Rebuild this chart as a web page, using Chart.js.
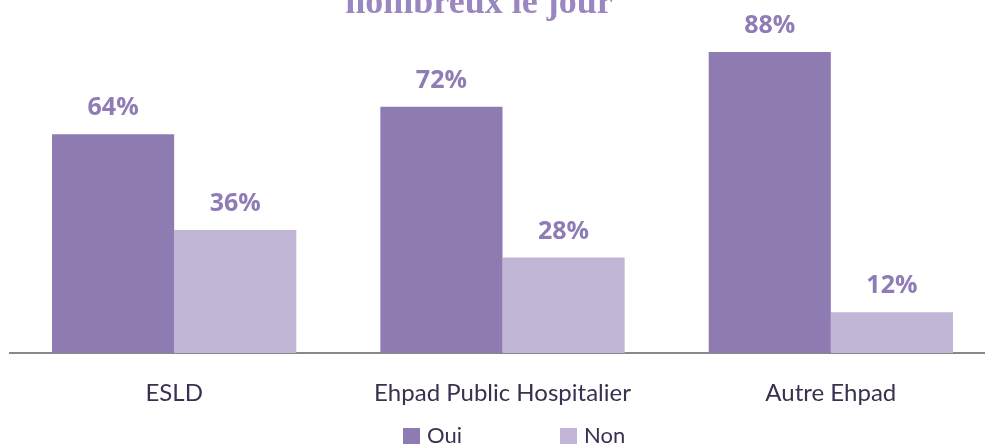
<!DOCTYPE html>
<html>
<head>
<meta charset="utf-8">
<script src="https://cdn.jsdelivr.net/npm/chart.js@4"></script>
<style>
  html, body { margin: 0; padding: 0; background: #fff; overflow: hidden; }
  #wrap { position: relative; width: 995px; height: 444px; }
</style>
</head>
<body>
<div id="wrap"><canvas id="chart"></canvas></div>
<script>
const categories = ["ESLD", "Ehpad Public Hospitalier", "Autre Ehpad"];
const ouiValues = [64, 72, 88];
const nonValues = [36, 28, 12];
const titleLine = "nombreux le jour";

const ouiColor = "#8e7bb2";
const nonColor = "#c2b6d6";
const textColor = "#3b3050";

// value labels, the cut-off title line and the legend row
const overlay = {
  id: "overlay",
  afterDraw(chart) {
    const ctx = chart.ctx;
    ctx.save();
    ctx.fillStyle = "#8f7bb5";
    ctx.font = "bold 25px 'Open Sans'";
    ctx.textAlign = "center";
    ctx.textBaseline = "middle";
    chart.data.datasets.forEach((ds, i) => {
      chart.getDatasetMeta(i).data.forEach((bar, j) => {
        ctx.fillText(ds.data[j] + "%", bar.x, bar.y - 26);
      });
    });

    ctx.font = "bold 36px 'Liberation Serif'";
    ctx.fillStyle = "#9b87c0";
    ctx.textBaseline = "alphabetic";
    ctx.fillText(titleLine, 479, 13);

    // legend
    const starts = [403, 560];
    ctx.font = "22px Lato";
    ctx.textAlign = "left";
    ctx.textBaseline = "middle";
    chart.data.datasets.forEach((ds, i) => {
      ctx.fillStyle = ds.backgroundColor;
      ctx.fillRect(starts[i], 428, 17, 16);
      ctx.fillStyle = textColor;
      ctx.fillText(ds.label, starts[i] + 24, 436);
    });
    ctx.restore();
  },
};

new Chart(document.getElementById("chart"), {
  type: "bar",
  data: {
    labels: categories,
    datasets: [
      { label: "Oui", data: ouiValues, backgroundColor: ouiColor },
      { label: "Non", data: nonValues, backgroundColor: nonColor },
    ],
  },
  options: {
    responsive: true,
    maintainAspectRatio: false,
    animation: false,
    layout: { padding: { left: 10, right: 0, top: 11, bottom: 10 } },
    datasets: { bar: { categoryPercentage: 0.744, barPercentage: 1.0 } },
    scales: {
      x: {
        grid: { display: false, drawTicks: false },
        border: { color: "#888888", width: 2 },
        ticks: { color: textColor, font: { family: "Lato", size: 24 }, padding: 26 },
      },
      y: { display: false, min: 0, max: 100 },
    },
    plugins: {
      legend: { display: false },
      tooltip: { enabled: false },
    },
  },
  plugins: [overlay],
});
</script>
</body>
</html>
